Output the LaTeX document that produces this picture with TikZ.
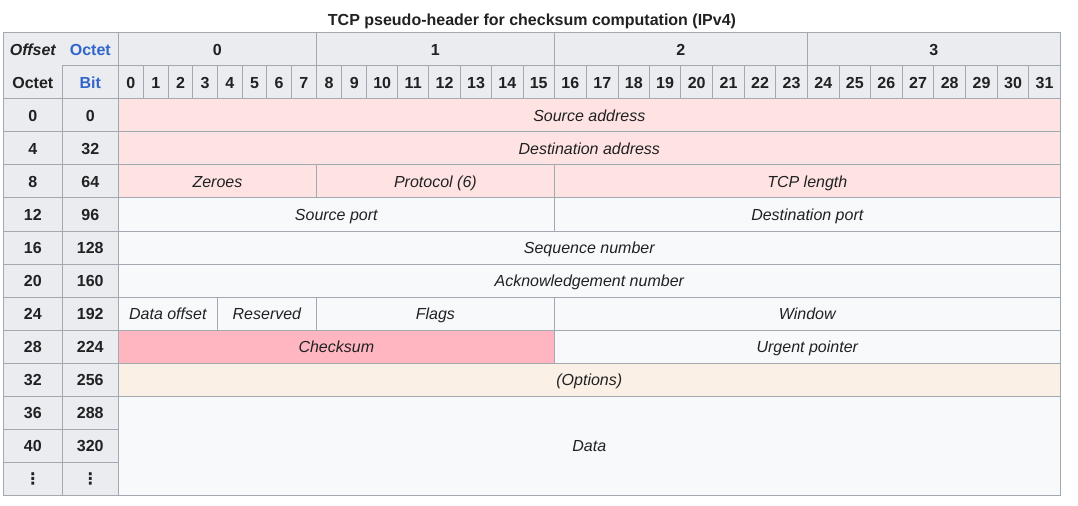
\documentclass[tikz,border=0pt]{standalone}
\usepackage{fontspec}
\setmainfont{Liberation Sans}
\newfontfamily\dotsfont{DejaVu Sans}
\usepackage{xcolor}

\definecolor{hdrgray}{HTML}{EAECF0}
\definecolor{cellgray}{HTML}{F8F9FA}
\definecolor{rulegray}{HTML}{A2A9B1}
\definecolor{inktext}{HTML}{202122}
\definecolor{linkblue}{HTML}{3366CC}
\definecolor{pseudo}{HTML}{FFE3E3}
\definecolor{cksum}{HTML}{FFB6C1}
\definecolor{opts}{HTML}{FAF0E6}

\tikzset{
  rule/.style={draw=rulegray, line width=0.75pt},
  numtext/.style={font=\fontsize{12}{14.4}\selectfont\bfseries, text=inktext,
    text height=8.6pt, text depth=0pt, inner sep=0pt},
  fieldtext/.style={font=\fontsize{12}{14.4}\selectfont\itshape, text=inktext,
    text height=8.6pt, text depth=0pt, inner sep=0pt},
}

\begin{document}
\begin{tikzpicture}[x=0.75pt, y=-0.75pt]
\useasboundingbox (0,0) rectangle (1078,506);
\fill[white] (0,0) rectangle (1078,506);
\node[numtext] (title) at (532,20) {TCP pseudo-header for checksum computation (IPv4)};
% grey header rows and offset columns
\fill[hdrgray] (3.3,33) rectangle (1060.3,99);
\fill[hdrgray] (3.3,99) rectangle (118.3,495);
% fields
\foreach \name/\xa/\xb/\ya/\yb/\col/\txt in {
  srcaddr/118.3/1060.3/99/132/pseudo/{Source address},
  dstaddr/118.3/1060.3/132/165/pseudo/{Destination address},
  zeroes/118.3/316.5/165/198/pseudo/{Zeroes},
  proto/316.5/554.3/165/198/pseudo/{Protocol (6)},
  tcplen/554.3/1060.3/165/198/pseudo/{TCP length},
  srcport/118.3/554.3/198/231/cellgray/{Source port},
  dstport/554.3/1060.3/198/231/cellgray/{Destination port},
  seqnum/118.3/1060.3/231/264/cellgray/{Sequence number},
  acknum/118.3/1060.3/264/297/cellgray/{Acknowledgement number},
  dataoff/118.3/217.3/297/330/cellgray/{Data offset},
  reserved/217.3/316.5/297/330/cellgray/{Reserved},
  flags/316.5/554.3/297/330/cellgray/{Flags},
  window/554.3/1060.3/297/330/cellgray/{Window},
  checksum/118.3/554.3/330/363/cksum/{Checksum},
  urgent/554.3/1060.3/330/363/cellgray/{Urgent pointer},
  options/118.3/1060.3/363/396/opts/{(Options)},
  data/118.3/1060.3/396/495/cellgray/{Data}}{
  \draw[rule, fill=\col] (\xa,\ya) rectangle (\xb,\yb);
  \node[fieldtext] (\name) at ({(\xa+\xb)/2},{(\ya+\yb)/2}) {\txt};
}
% octet numbers
\foreach \n/\xa/\xb in {0/118.3/316.5, 1/316.5/554.3, 2/554.3/807.3, 3/807.3/1060.3}{
  \node[numtext] (octet\n) at ({(\xa+\xb)/2},49.5) {\n};
  \draw[rule] (\xb,33) -- (\xb,66);
}
% bit numbers
\foreach \n/\xa/\xb in {0/118.3/143.3, 1/143.3/168.3, 2/168.3/192.7, 3/192.7/217.3,
  4/217.3/242.3, 5/242.3/266.7, 6/266.7/291.3, 7/291.3/316.5,
  8/316.5/341.7, 9/341.7/366.7, 10/366.7/397.7, 11/397.7/428.7,
  12/428.7/460.3, 13/460.3/491.7, 14/491.7/523, 15/523/554.3,
  16/554.3/586.3, 17/586.3/618.3, 18/618.3/649.3, 19/649.3/680.7,
  20/680.7/712.7, 21/712.7/744.3, 22/744.3/775.7, 23/775.7/807.3,
  24/807.3/839.3, 25/839.3/870.3, 26/870.3/902.3, 27/902.3/933.7,
  28/933.7/965.7, 29/965.7/997.3, 30/997.3/1028.7, 31/1028.7/1060.3}{
  \node[numtext] (bit\n) at ({(\xa+\xb)/2},82.5) {\n};
  \draw[rule] (\xb,66) -- (\xb,99);
}
% offset column
\node[numtext] (offsethd) at (32.8,49.5) {\itshape Offset};
\node[numtext, text=linkblue] (octethd) at (90.3,49.5) {Octet};
\node[numtext] (octetcol) at (32.8,82.5) {Octet};
\node[numtext, text=linkblue] (bitcol) at (90.3,82.5) {Bit};
\foreach \k/\oct/\bit in {3/0/0, 4/4/32, 5/8/64, 6/12/96, 7/16/128, 8/20/160,
  9/24/192, 10/28/224, 11/32/256, 12/36/288, 13/40/320}{
  \node[numtext] (octrow\oct) at (32.8,{33*\k+16.5}) {\oct};
  \node[numtext] (bitrow\bit) at (90.3,{33*\k+16.5}) {\bit};
  \draw[rule] (3.3,{33*\k}) -- (118.3,{33*\k});
}
\draw[rule] (3.3,462) -- (118.3,462);
\node[numtext] (octrowmore) at (32.8,478.5) {\dotsfont\bfseries ⋮};
\node[numtext] (bitrowmore) at (90.3,478.5) {\dotsfont\bfseries ⋮};
% frame
\draw[rule] (62.3,66) -- (1060.3,66);
\draw[rule] (62.3,66) -- (62.3,495);
\draw[rule] (118.3,33) -- (118.3,495);
\draw[rule] (3.3,33) rectangle (1060.3,495);
\end{tikzpicture}
\end{document}
